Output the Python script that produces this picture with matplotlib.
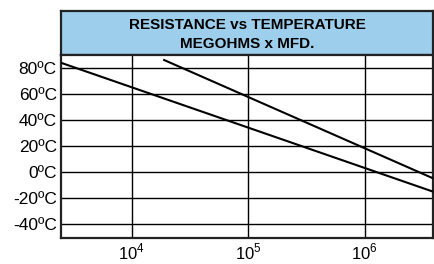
import numpy as np
import matplotlib.pyplot as plt

# chart data
line_lo_x = [2470, 3.85e6]
line_lo_y = [84.3, -15.2]
line_hi_x = [19000, 3.85e6]
line_hi_y = [86.4, -4.9]
x_ticks = [1e4, 1e5, 1e6]
x_labels = ['$10^4$', '$10^5$', '$10^6$']
y_ticks = [80, 60, 40, 20, 0, -20, -40]
y_labels = ['80ºC', '60ºC', '40ºC', '20ºC', '0ºC', '-20ºC', '-40ºC']
title = 'RESISTANCE vs TEMPERATURE'
subtitle = 'MEGOHMS x MFD.'

plt.rcParams['font.family'] = ['Liberation Sans', 'DejaVu Sans']
plt.rcParams['mathtext.fontset'] = 'custom'
plt.rcParams['mathtext.rm'] = 'Liberation Sans'

fig = plt.figure(figsize=(4.35, 2.64), dpi=100)

# header band
hdr = fig.add_axes([0.1402, 0.7917, 0.8552, 0.1666])
hdr.set_facecolor('#9dcfec')
hdr.set_xticks([])
hdr.set_yticks([])
for s in hdr.spines.values():
    s.set_color('#222222')
    s.set_linewidth(1.6)
hdr.text(0.5, 0.675, title, ha='center', va='center', fontsize=11,
         fontweight='bold', transform=hdr.transAxes)
hdr.text(0.5, 0.26, subtitle, ha='center', va='center', fontsize=11,
         fontweight='bold', transform=hdr.transAxes)

ax = fig.add_axes([0.1402, 0.0996, 0.8552, 0.6921])
ax.set_xscale('log')
ax.set_xlim(10 ** 3.393, 10 ** 6.586)
ax.set_ylim(-50.8, 90.3)

for v in x_ticks:
    ax.axvline(v, color='black', lw=1.0, zorder=1)
for v in y_ticks:
    ax.axhline(v, color='black', lw=1.0, zorder=1)

ax.plot(line_lo_x, line_lo_y, color='black', lw=1.5, zorder=3)
ax.plot(line_hi_x, line_hi_y, color='black', lw=1.5, zorder=3)

ax.set_xticks(x_ticks)
ax.set_xticklabels(x_labels, fontsize=12)
ax.xaxis.set_minor_locator(plt.NullLocator())
ax.set_yticks(y_ticks)
ax.set_yticklabels(y_labels, fontsize=12.5)
ax.tick_params(length=0, pad=3)
ax.tick_params(axis='x', pad=3)
for s in ax.spines.values():
    s.set_color('#222222')
    s.set_linewidth(1.6)

fig.savefig('out.png', dpi=100)
